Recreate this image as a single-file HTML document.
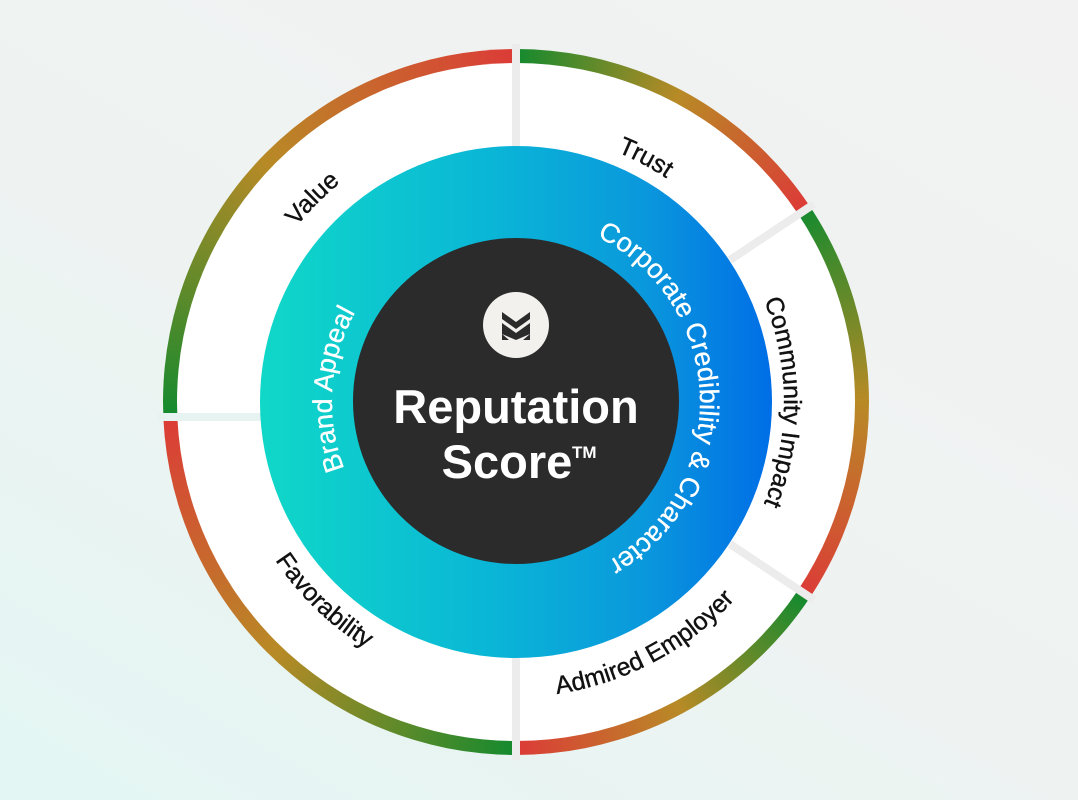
<!DOCTYPE html>
<html><head><meta charset="utf-8"><style>
html,body{margin:0;padding:0}
body{width:1078px;height:800px;position:relative;overflow:hidden;background:linear-gradient(30deg,#e3f6f3 0%,#eef3f2 45%,#f2f2f2 100%);font-family:"Liberation Sans",sans-serif}
#ring{position:absolute;left:163px;top:49px;width:706px;height:706px;border-radius:50%;
background:conic-gradient(from 0deg,
#148a2e 0deg,#b88a26 28deg,#dc3b37 56deg,
#148a2e 56deg,#b88a26 90deg,#dc3b37 124deg,
#148a2e 124deg,#b88a26 152deg,#dc3b37 180deg,
#148a2e 180deg,#b88a26 224deg,#dc3b37 267.6deg,
#148a2e 267.6deg,#b88a26 314deg,#dc3b37 360deg)}
svg{position:absolute;left:0;top:0}
</style></head><body>
<div id="ring"></div>
<svg width="1078" height="800" viewBox="0 0 1078 800">
<defs>
<linearGradient id="g" x1="259" y1="0" x2="772" y2="0" gradientUnits="userSpaceOnUse">
<stop offset="0" stop-color="#10d8c8"/><stop offset="0.45" stop-color="#0ab6d6"/><stop offset="0.75" stop-color="#0a98dc"/><stop offset="1" stop-color="#006ee6"/>
</linearGradient>
<path id="pTrust" d="M 272.3 272.6 A 276 276 0 0 1 759.7 531.4"/>
<path id="pValue" d="M 317.3 600.7 A 281 281 0 0 1 714.7 203.3"/>
<path id="pComm" d="M 516 134 A 268 268 0 0 1 516 670"/>
<path id="pBrand" d="M 503.2 585.6 A 184 184 0 0 1 528.8 218.4"/>
<path id="pCorp" d="M 509.6 218.1 A 184 184 0 0 1 522.4 585.9"/>
<path id="pAdm" d="M 251.1 542.7 A 300 300 0 0 0 780.9 261.3"/>
<path id="pFav" d="M 308.8 201.9 A 288 288 0 0 0 723.2 602.1"/>
</defs>
<circle cx="516" cy="402" r="339" fill="#fff"/>
<g stroke="#ececec" stroke-width="8">
<line x1="516" y1="150" x2="516" y2="44"/>
<line x1="516" y1="654" x2="516" y2="760"/>
<line x1="730" y1="260" x2="814" y2="204"/>
<line x1="730" y1="544" x2="814" y2="600"/>
<line x1="262" y1="417" x2="158" y2="417" stroke="#e6f3f1"/>
</g>
<circle cx="516" cy="402" r="256" fill="url(#g)"/>
<circle cx="516" cy="401" r="163" fill="#2b2b2b"/>
<circle cx="516" cy="325" r="33" fill="#f3f1ee"/>
<polygon points="502,312 516,322 530,312 530,319 516,329 502,319" fill="#2b2b2b"/>
<polygon points="502,323 516,333 530,323 530,340 523,340 530,334 516,340 502,334 509,340 502,340" fill="#2b2b2b"/>
<text x="516" y="423" text-anchor="middle" font-size="47" font-weight="bold" fill="#fff">Reputation</text>
<text x="507" y="478" text-anchor="middle" font-size="47" font-weight="bold" fill="#fff">Score</text>
<text x="572" y="458" font-size="17" font-weight="bold" fill="#fff">TM</text>
<g font-size="25" fill="#111" stroke="#111" stroke-width="0.4">
<text><textPath href="#pTrust" startOffset="50%" text-anchor="middle">Trust</textPath></text>
<text><textPath href="#pValue" startOffset="50%" text-anchor="middle">Value</textPath></text>
<text><textPath href="#pComm" startOffset="50%" text-anchor="middle">Community Impact</textPath></text>
<text><textPath href="#pAdm" startOffset="50%" text-anchor="middle">Admired Employer</textPath></text>
<text><textPath href="#pFav" startOffset="50%" text-anchor="middle">Favorability</textPath></text>
</g>
<g font-size="27" fill="#fff" stroke="#fff" stroke-width="0.3">
<text><textPath href="#pBrand" startOffset="50%" text-anchor="middle">Brand Appeal</textPath></text>
<text><textPath href="#pCorp" startOffset="50%" text-anchor="middle">Corporate Credibility &amp; Character</textPath></text>
</g>
</svg>
</body></html>
